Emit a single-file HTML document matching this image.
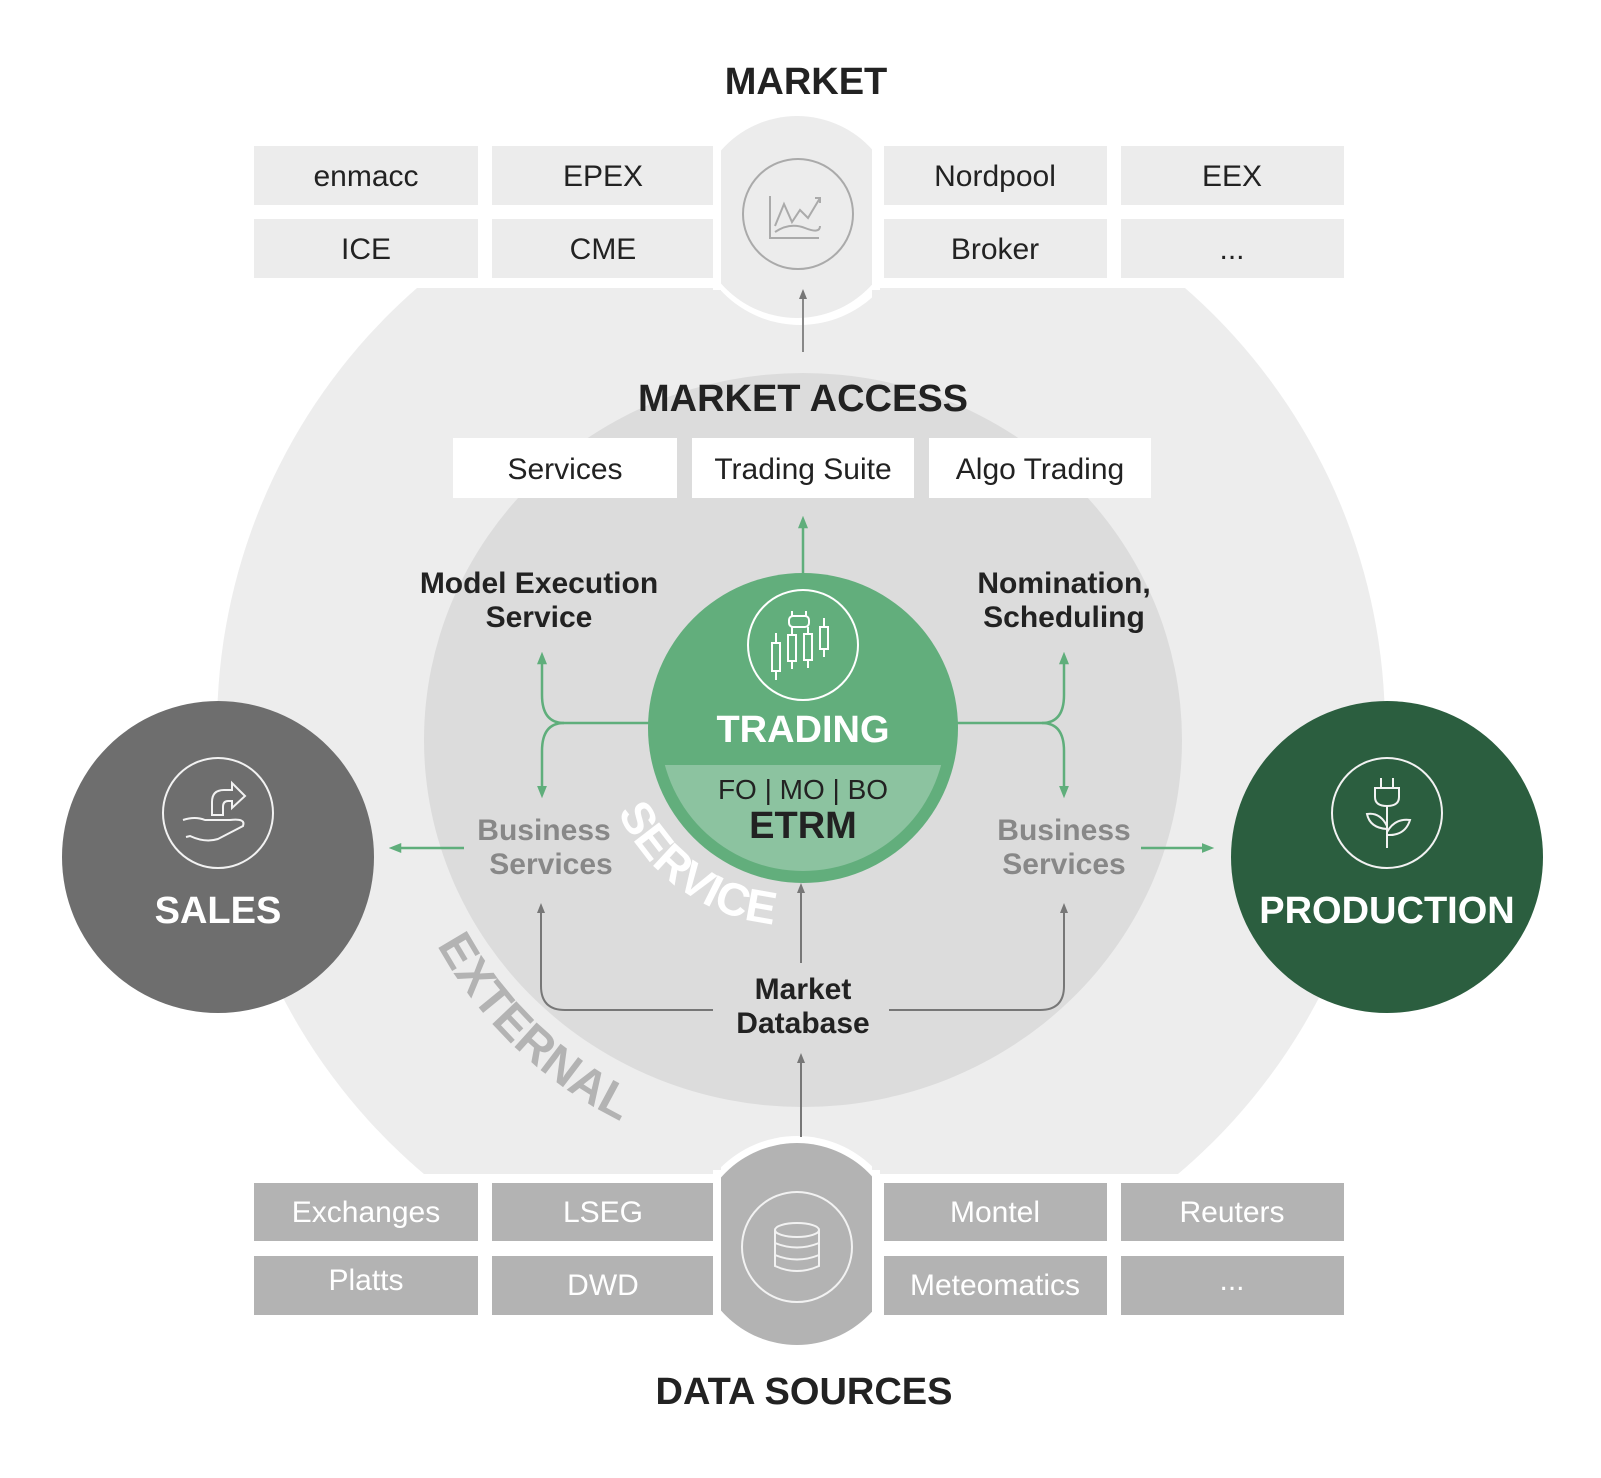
<!DOCTYPE html>
<html><head><meta charset="utf-8"><style>
html,body{margin:0;padding:0;background:#fff}
svg{display:block}
text{font-family:"Liberation Sans",sans-serif}
</style></head><body>
<svg width="1601" height="1478" viewBox="0 0 1601 1478" xmlns="http://www.w3.org/2000/svg">
<defs>
<clipPath id="outerclip"><rect x="0" y="288" width="1601" height="886"/></clipPath>
<clipPath id="hubclip"><rect x="721" y="0" width="151" height="1478"/></clipPath>
<marker id="ag" viewBox="0 0 10 10" refX="5" refY="5" markerWidth="5" markerHeight="5" orient="auto-start-reverse"><path d="M0,1 L10,5 L0,9 z" fill="#5fae7b"/></marker>
<marker id="ay" viewBox="0 0 10 10" refX="5" refY="5" markerWidth="5" markerHeight="5" orient="auto-start-reverse"><path d="M0,1 L10,5 L0,9 z" fill="#777"/></marker>
<path id="svcarc" d="M 618 812 A 190 190 0 0 0 800 925" fill="none"/>
<path id="extarc" d="M 437 945 A 420 420 0 0 0 640 1130" fill="none"/>
</defs>

<circle cx="801" cy="728" r="584" fill="#ededed" clip-path="url(#outerclip)"/>
<ellipse cx="803" cy="740" rx="379" ry="367" fill="#dcdcdc"/>

<g fill="#ececec">
<rect x="254" y="146" width="224" height="59"/><rect x="492" y="146" width="223" height="59"/>
<rect x="884" y="146" width="223" height="59"/><rect x="1121" y="146" width="223" height="59"/>
<rect x="254" y="219" width="224" height="59"/><rect x="492" y="219" width="223" height="59"/>
<rect x="884" y="219" width="223" height="59"/><rect x="1121" y="219" width="223" height="59"/>
</g>
<g font-size="30" fill="#222" text-anchor="middle">
<text x="366" y="186">enmacc</text><text x="603" y="186">EPEX</text>
<text x="995" y="186">Nordpool</text><text x="1232" y="186">EEX</text>
<text x="366" y="259">ICE</text><text x="603" y="259">CME</text>
<text x="995" y="259">Broker</text><text x="1232" y="259">...</text>
</g>
<circle cx="800" cy="217" r="108" fill="#fff" clip-path="url(#hubclip)"/>
<rect x="713" y="110" width="8" height="180" fill="#fff"/><rect x="872" y="110" width="8" height="180" fill="#fff"/>
<circle cx="797" cy="217" r="101" fill="#ececec" clip-path="url(#hubclip)"/>
<circle cx="798" cy="214" r="55" fill="none" stroke="#aaa" stroke-width="2"/>
<g fill="none" stroke="#aaa" stroke-width="2">
<path d="M770 196 V238 H819"/>
<path d="M775 226 L784 204 L792 222 L800 210 L808 218 L820 198"/>
<path d="M815 198 H820 V203"/>
<path d="M775 232 Q790 222 805 228 T820 226"/>
</g>

<g fill="#b3b3b3">
<rect x="254" y="1183" width="224" height="58"/><rect x="492" y="1183" width="223" height="58"/>
<rect x="884" y="1183" width="223" height="58"/><rect x="1121" y="1183" width="223" height="58"/>
<rect x="254" y="1256" width="224" height="59"/><rect x="492" y="1256" width="223" height="59"/>
<rect x="884" y="1256" width="223" height="59"/><rect x="1121" y="1256" width="223" height="59"/>
</g>
<g font-size="30" fill="#fff" text-anchor="middle">
<text x="366" y="1222">Exchanges</text><text x="603" y="1222">LSEG</text>
<text x="995" y="1222">Montel</text><text x="1232" y="1222">Reuters</text>
<text x="366" y="1290">Platts</text><text x="603" y="1295">DWD</text>
<text x="995" y="1295">Meteomatics</text><text x="1232" y="1290">...</text>
</g>
<circle cx="797" cy="1244" r="108" fill="#fff" clip-path="url(#hubclip)"/>
<rect x="713" y="1170" width="8" height="160" fill="#fff"/><rect x="872" y="1170" width="8" height="160" fill="#fff"/>
<circle cx="797" cy="1244" r="101" fill="#b3b3b3" clip-path="url(#hubclip)"/>
<circle cx="797" cy="1247" r="55" fill="none" stroke="#f2f2f2" stroke-width="2"/>
<g fill="none" stroke="#f2f2f2" stroke-width="2">
<ellipse cx="797" cy="1230" rx="22" ry="7"/>
<path d="M775 1230 V1266 Q797 1276 819 1266 V1230"/>
<path d="M775 1243 Q797 1252 819 1243"/><path d="M775 1255 Q797 1264 819 1255"/>
</g>

<g font-weight="bold" fill="#222" text-anchor="middle">
<text x="806" y="94" font-size="38">MARKET</text>
<text x="803" y="411" font-size="38">MARKET ACCESS</text>
<text x="804" y="1404" font-size="38">DATA SOURCES</text>
</g>

<g fill="#fff">
<rect x="453" y="438" width="224" height="60"/><rect x="692" y="438" width="222" height="60"/><rect x="929" y="438" width="222" height="60"/>
</g>
<g font-size="30" fill="#222" text-anchor="middle">
<text x="565" y="479">Services</text><text x="803" y="479">Trading Suite</text><text x="1040" y="479">Algo Trading</text>
</g>

<line x1="803" y1="352" x2="803" y2="294" stroke="#888" stroke-width="2" marker-end="url(#ay)"/>
<line x1="803" y1="575" x2="803" y2="522" stroke="#5fae7b" stroke-width="2.5" marker-end="url(#ag)"/>

<g fill="none" stroke="#5fae7b" stroke-width="2.5">
<path d="M650 723 H564 Q542 723 542 695 V658" marker-end="url(#ag)"/>
<path d="M564 723 Q542 723 542 751 V792" marker-end="url(#ag)"/>
<path d="M956 723 H1042 Q1064 723 1064 695 V658" marker-end="url(#ag)"/>
<path d="M1042 723 Q1064 723 1064 751 V792" marker-end="url(#ag)"/>
<line x1="464" y1="848" x2="395" y2="848" marker-end="url(#ag)"/>
<line x1="1141" y1="848" x2="1208" y2="848" marker-end="url(#ag)"/>
</g>

<g fill="none" stroke="#777" stroke-width="2">
<path d="M713 1010 H565 Q541 1010 541 986 V908" marker-end="url(#ay)"/>
<path d="M889 1010 H1040 Q1064 1010 1064 986 V908" marker-end="url(#ay)"/>
<line x1="801" y1="963" x2="801" y2="888" marker-end="url(#ay)"/>
<line x1="801" y1="1137" x2="801" y2="1058" marker-end="url(#ay)"/>
</g>

<g font-weight="bold" fill="#222" text-anchor="middle" font-size="30">
<text x="539" y="593">Model Execution</text><text x="539" y="627">Service</text>
<text x="1064" y="593">Nomination,</text><text x="1064" y="627">Scheduling</text>
<text x="803" y="999">Market</text><text x="803" y="1033">Database</text>
</g>
<g font-weight="bold" fill="#888" text-anchor="middle" font-size="30">
<text x="544" y="840">Business</text><text x="551" y="874">Services</text>
<text x="1064" y="840">Business</text><text x="1064" y="874">Services</text>
</g>

<circle cx="803" cy="728" r="155" fill="#62ae7c"/>
<clipPath id="gc"><circle cx="803" cy="728" r="143"/></clipPath>
<rect x="640" y="765" width="330" height="150" fill="#8cc3a0" clip-path="url(#gc)"/>
<circle cx="803" cy="645" r="55" fill="none" stroke="#fff" stroke-width="2"/>
<g fill="none" stroke="#fff" stroke-width="2">
<rect x="772" y="643" width="8" height="28"/><line x1="776" y1="633" x2="776" y2="643"/><line x1="776" y1="671" x2="776" y2="680"/>
<rect x="788" y="635" width="8" height="26"/><line x1="792" y1="627" x2="792" y2="635"/><line x1="792" y1="661" x2="792" y2="669"/>
<rect x="804" y="634" width="8" height="26"/><line x1="808" y1="627" x2="808" y2="634"/><line x1="808" y1="660" x2="808" y2="668"/>
<rect x="820" y="627" width="8" height="22"/><line x1="824" y1="618" x2="824" y2="627"/><line x1="824" y1="649" x2="824" y2="657"/>
<rect x="789" y="616" width="20" height="11" rx="4"/><line x1="792" y1="611" x2="792" y2="616"/><line x1="806" y1="611" x2="806" y2="616"/>
</g>
<text x="803" y="742" font-size="38" font-weight="bold" fill="#fff" text-anchor="middle">TRADING</text>
<text x="803" y="799" font-size="28" fill="#222" text-anchor="middle">FO | MO | BO</text>
<text x="803" y="838" font-size="38" font-weight="bold" fill="#222" text-anchor="middle">ETRM</text>

<text font-size="46" font-weight="bold" fill="#fff" letter-spacing="0"><textPath href="#svcarc">SERVICE</textPath></text>
<text font-size="48" font-weight="bold" fill="#b3b3b3" letter-spacing="0"><textPath href="#extarc">EXTERNAL</textPath></text>

<circle cx="218" cy="857" r="156" fill="#6e6e6e"/>
<circle cx="218" cy="813" r="55" fill="none" stroke="#f2f2f2" stroke-width="2"/>
<g fill="none" stroke="#f2f2f2" stroke-width="2">
<path d="M212 815 V802 Q212 790 224 790 H232 V783 L245 796 L232 808 V801 H228 Q223 801 223 807 V815 Z"/>
<path d="M183 820 Q195 816 205 820 H230 Q246 818 243 826 L218 839 Q205 843 190 836 L186 837"/>
</g>
<text x="218" y="923" font-size="38" font-weight="bold" fill="#fff" text-anchor="middle">SALES</text>

<circle cx="1387" cy="857" r="156" fill="#2b5e3f"/>
<circle cx="1387" cy="813" r="55" fill="none" stroke="#f2f2f2" stroke-width="2"/>
<g fill="none" stroke="#f2f2f2" stroke-width="2">
<line x1="1381" y1="778" x2="1381" y2="788"/><line x1="1393" y1="778" x2="1393" y2="788"/>
<path d="M1375 788 H1399 V797 Q1399 806 1387 806 Q1375 806 1375 797 Z"/>
<path d="M1387 806 V848"/>
<path d="M1387 832 Q1395 818 1410 820 Q1405 836 1387 835"/>
<path d="M1387 826 Q1380 812 1367 814 Q1370 828 1387 829"/>
</g>
<text x="1387" y="923" font-size="38" font-weight="bold" fill="#fff" text-anchor="middle">PRODUCTION</text>
</svg>
</body></html>
